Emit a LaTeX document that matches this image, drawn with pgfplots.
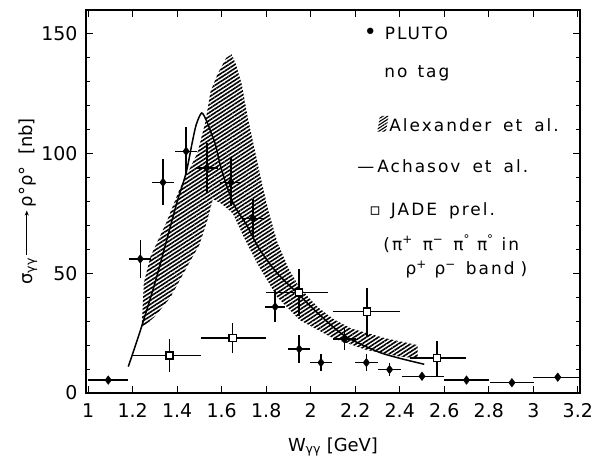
\documentclass[border=0pt]{standalone}
\usepackage{fontspec}
\setmainfont{DejaVu Sans}
\usepackage{pgfplots}
\pgfplotsset{compat=1.18}
\usetikzlibrary{patterns.meta,arrows.meta}
\newcommand{\lf}{\fontsize{17}{20}\selectfont\addfontfeature{LetterSpace=12}}
\begin{document}
\begin{tikzpicture}
\begin{axis}[
  scale only axis, width=494bp, height=383bp,
  xmin=0.99, xmax=3.21, ymin=0, ymax=160,
  xtick={1,1.2,1.4,1.6,1.8,2,2.2,2.4,2.6,2.8,3,3.2},
  xticklabels={1,1.2,1.4,1.6,1.8,2,2.2,2.4,2.6,2.8,3,3.2},
  ytick={0,50,100,150},
  minor y tick num=4,
  tick align=inside,
  major tick length=7bp, minor tick length=4.5bp,
  axis line style={line width=1.5bp},
  every tick/.style={black, line width=1bp},
  /pgf/number format/assume math mode=true,
  tick label style={font=\fontsize{19}{19}\selectfont},
  xticklabel style={yshift=-7bp},
  yticklabel style={xshift=-5bp},
  xlabel={W\textsubscript{γγ} [GeV]},
  ylabel={σ\textsubscript{γγ}\,\tikz[baseline=-0.55ex]\draw[-{Stealth[length=5bp,width=4bp]}, line width=1bp] (0,0)--(44bp,0);\,ρ°ρ°\ \ [nb]},
  label style={font=\fontsize{18}{20}\selectfont},
  xlabel style={at={(axis description cs:0.5,-0.152)}, anchor=base},
  ylabel style={at={(axis description cs:-0.109,0.5)}, anchor=base},
  clip=false,
]
% Alexander et al. band
\addplot[draw=none, pattern={Lines[angle=33, distance=3.3bp, line width=1.6bp]}, forget plot] coordinates {
 (1.24,27) (1.25,46) (1.28,57) (1.35,71) (1.41,85) (1.49,100) (1.526,113) (1.55,126)
 (1.58,133) (1.62,140) (1.645,141.5) (1.665,137) (1.69,129) (1.715,116) (1.745,103)
 (1.775,90) (1.81,76) (1.85,63) (1.90,52) (1.95,44) (2.03,36) (2.10,31) (2.18,27)
 (2.33,23) (2.48,20)
 (2.48,14.5) (2.40,15.2) (2.25,18) (2.10,22.9) (1.95,30.5) (1.85,40) (1.76,54)
 (1.70,65) (1.65,75) (1.60,79) (1.56,81) (1.535,72) (1.50,62) (1.44,52) (1.37,40)
 (1.30,32) (1.24,27)
} -- cycle;
% legend swatch for the band
\fill[pattern={Lines[angle=33,distance=2.6bp,line width=1.1bp]}]
  (axis cs:2.299,109.2) -- (axis cs:2.338,109.2) -- (axis cs:2.350,115.8) -- (axis cs:2.311,115.8) -- cycle;
% Achasov et al.
\addplot[black, line width=1.5bp, smooth, tension=0.45, forget plot] coordinates {
 (1.18,11) (1.234,26) (1.30,46) (1.35,63) (1.40,80) (1.44,92) (1.466,104) (1.485,112)
 (1.51,117) (1.535,113) (1.555,108) (1.571,104) (1.60,93) (1.653,79) (1.713,70)
 (1.77,60) (1.85,50) (1.948,41) (2.03,33.5) (2.15,24) (2.30,17.3) (2.40,14.5) (2.51,12)
};
% PLUTO
\addplot[black, only marks, mark=diamond*, mark size=4.3bp, forget plot,
  error bars/.cd, x dir=both, x explicit, y dir=both, y explicit,
  error bar style={line width=1.4bp}, error mark=none] coordinates {
 (1.09,5.4) += (0.09,1.5) -= (0.09,1.5)
 (1.234,56) +- (0.05,8)
 (1.336,88) +- (0.05,9.6)
 (1.44,101) +- (0.05,10)
 (1.533,94) +- (0.05,10.5)
 (1.641,88) +- (0.05,10)
 (1.74,73) +- (0.05,8)
 (1.84,36) +- (0.045,6.5)
 (1.948,18.4) +- (0.05,6)
 (2.046,12.7) +- (0.05,3.5)
 (2.152,22.5) +- (0.05,4.7)
 (2.25,12.7) +- (0.05,3.5)
 (2.354,9.8) +- (0.05,2.8)
 (2.50,7) += (0.1,1.5) -= (0.09,1.5)
 (2.70,5.4) +- (0.1,1)
 (2.904,4.3) +- (0.1,1)
 (3.11,6.6) += (0.1,1.5) -= (0.11,1.5)
};
% JADE prel.
\addplot[black, only marks, mark=square*, mark size=3.6bp,
  mark options={fill=white, line width=1.4bp}, forget plot,
  error bars/.cd, x dir=both, x explicit, y dir=both, y explicit,
  error bar style={line width=1.4bp}, error mark=none] coordinates {
 (1.365,15.7) += (0.14,6.8) -= (0.17,6.8)
 (1.649,23) += (0.15,6.2) -= (0.14,6.2)
 (1.948,42) += (0.13,10) -= (0.15,10)
 (2.252,34) += (0.15,10) -= (0.15,10)
 (2.567,14.6) += (0.13,7) -= (0.12,7.5)
};
% legend text
\node[anchor=base west, inner sep=0pt, font=\lf] at (axis cs:2.238,147.7) {{\fontsize{22}{22}\selectfont •}\hspace{8bp}PLUTO};
\node[anchor=base west, inner sep=0pt, font=\lf] at (axis cs:2.330,131.8) {no\hspace{10bp}tag};
\node[anchor=base west, inner sep=0pt, font=\lf] at (axis cs:2.352,109.2) {Alexander\hspace{12bp}et\hspace{12bp}al.};
\node[anchor=base west, inner sep=0pt, font=\lf] at (axis cs:2.209,92.2) {—\hspace{3bp}Achasov\hspace{12bp}et\hspace{12bp}al.};
\node[anchor=base west, inner sep=0pt, font=\lf] at (axis cs:2.263,74.2) {▫\hspace{10bp}JADE\hspace{12bp}prel.};
\node[anchor=base west, inner sep=0pt, font=\lf] at (axis cs:2.326,59.7) {(π\textsuperscript{+}\hspace{10bp}π\textsuperscript{−}\hspace{10bp}π\textsuperscript{°}\hspace{7bp}π\textsuperscript{°}\hspace{8bp}in};
\node[anchor=base west, inner sep=0pt, font=\lf] at (axis cs:2.425,49.5) {ρ\textsuperscript{+}\hspace{8bp}ρ\textsuperscript{−}\hspace{10bp}band\hspace{6bp})};
\end{axis}
\path (current axis.south west) ++(-86bp,-68bp) coordinate (bbl);
\path (current axis.north east) ++(13bp,10bp) coordinate (btr);
\pgfresetboundingbox
\path[use as bounding box] (bbl) rectangle (btr);
\end{tikzpicture}
\end{document}
